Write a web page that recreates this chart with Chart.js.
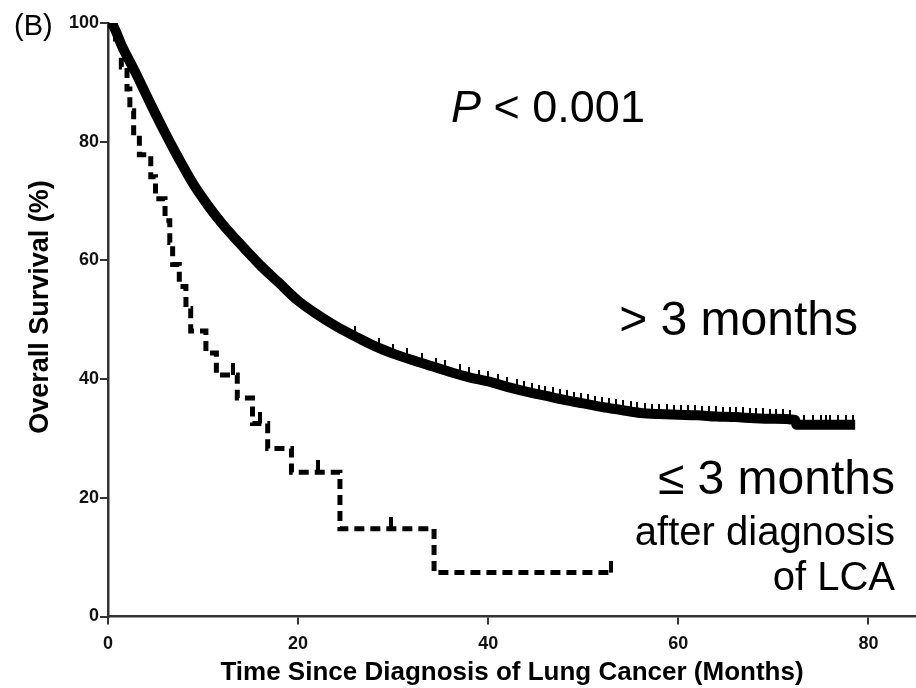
<!DOCTYPE html>
<html>
<head>
<meta charset="utf-8">
<script src="https://cdn.jsdelivr.net/npm/chart.js@4.4.1/dist/chart.umd.min.js"></script>
<style>
  html, body { margin: 0; padding: 0; background: #fff; }
</style>
</head>
<body>
<canvas id="km" width="916" height="688"></canvas>
<script>
const xTicks = [0, 20, 40, 60, 80];
const yTicks = [0, 20, 40, 60, 80, 100];

// > 3 months group (solid curve)
const lateMonths = [0, 0.5, 1.5, 3, 4.5, 6, 7.5, 9, 10.5, 12, 14, 16, 18, 20, 22, 24, 26, 28, 30, 32, 34, 36, 38, 40, 42, 44, 46, 48, 50, 52, 54, 56, 58, 60, 62, 64, 66, 68, 70, 72.3, 72.4, 78.6];
const lateSurvival = [100, 99.6, 96, 91.3, 86.3, 81.5, 77, 72.8, 69.3, 66.2, 62.6, 59.2, 56.2, 53.2, 50.9, 48.9, 47.2, 45.6, 44.3, 43.2, 42.2, 41.2, 40.3, 39.6, 38.7, 37.9, 37.2, 36.5, 35.9, 35.3, 34.8, 34.3, 34.1, 34.0, 33.9, 33.7, 33.6, 33.4, 33.3, 33.1, 32.3, 32.3];
const lateCensorMonths = [26, 28.5, 30, 31.5, 33, 34.5, 35.5, 37, 38, 39, 40, 41, 42, 43, 43.8, 44.6, 45.3, 46, 46.8, 47.5, 48.3, 49, 49.8, 50.5, 51.2, 52, 52.7, 53.4, 54.2, 55, 55.7, 56.5, 57.2, 58, 58.8, 59.5, 60.3, 61, 61.8, 62.5, 63.2, 64, 64.7, 65.4, 66.1, 66.8, 67.5, 68.2, 68.9, 69.6, 70.3, 71, 71.7, 73.2, 74.2, 75, 75.5, 76, 76.8, 77.6, 78.4];
const lateCensorSurvival = [47.2, 45.3, 44.3, 43.5, 42.7, 41.9, 41.5, 40.8, 40.3, 39.9, 39.6, 39.2, 38.7, 38.3, 38.0, 37.7, 37.4, 37.2, 36.9, 36.7, 36.4, 36.2, 35.95, 35.75, 35.55, 35.3, 35.15, 35.0, 34.75, 34.55, 34.4, 34.25, 34.15, 34.1, 34.05, 34.0, 33.98, 33.95, 33.9, 33.85, 33.8, 33.7, 33.65, 33.6, 33.6, 33.55, 33.45, 33.4, 33.38, 33.35, 33.3, 33.25, 33.15, 32.3, 32.3, 32.3, 32.3, 32.3, 32.3, 32.3, 32.3];

// <= 3 months group (dashed step curve)
const earlyMonths = [0, 0.8, 1.4, 2.0, 2.3, 2.7, 3.3, 4.5, 5.0, 6.0, 6.5, 6.8, 7.5, 8.2, 8.7, 10.3, 11.4, 13.6, 15.2, 16.8, 19.3, 24.4, 34.3, 52.9];
const earlySurvival = [100, 96.3, 92.6, 88.9, 85.2, 81.5, 77.8, 74.1, 70.4, 66.7, 63.0, 59.3, 55.6, 51.9, 48.1, 44.4, 40.7, 36.8, 32.5, 28.3, 24.3, 14.8, 7.4, 7.4];
const earlyCensorMonths = [13.2, 16.0, 22.1, 29.8, 52.9];
const earlyCensorSurvival = [40.7, 32.5, 24.3, 14.8, 7.4];

const FONT = '"Liberation Sans", Arial, sans-serif';

function pairs(xs, ys) {
    return xs.map((x, i) => ({ x, y: ys[i] }));
}

// upward censor tick: only the top half of the image is inked
function censorMark(w, len) {
    const c = document.createElement('canvas');
    c.width = w;
    c.height = len * 2;
    const g = c.getContext('2d');
    g.fillStyle = '#000';
    g.fillRect(0, 0, w, len);
    return c;
}

const notes = {
    id: 'notes',
    afterDraw(chart) {
        const ctx = chart.ctx;
        ctx.save();
        ctx.fillStyle = '#000';
        ctx.textBaseline = 'alphabetic';

        ctx.textAlign = 'left';
        ctx.font = '29px ' + FONT;
        ctx.fillText('(B)', 14, 35);

        ctx.font = 'italic 45px ' + FONT;
        ctx.fillText('P', 451, 122);
        const pw = ctx.measureText('P').width;
        ctx.font = '45px ' + FONT;
        ctx.fillText(' < 0.001', 451 + pw, 122);

        ctx.textAlign = 'right';
        ctx.font = '48px ' + FONT;
        ctx.fillText('> 3 months', 858, 335);
        ctx.fillText('\u2264 3 months', 895, 494);
        ctx.font = '40px ' + FONT;
        ctx.fillText('after diagnosis', 895, 545);
        ctx.fillText('of LCA', 895, 590);

        ctx.translate(41, 307);
        ctx.rotate(-Math.PI / 2);
        ctx.textAlign = 'center';
        ctx.textBaseline = 'middle';
        ctx.font = 'bold 27px ' + FONT;
        ctx.fillText('Overall Survival (%)', 0, 0);
        ctx.restore();
    }
};

new Chart(document.getElementById('km').getContext('2d'), {
    type: 'line',
    data: {
        datasets: [
            {
                label: '> 3 months',
                data: pairs(lateMonths, lateSurvival),
                borderColor: '#000',
                borderWidth: 10,
                cubicInterpolationMode: 'monotone',
                pointRadius: 0
            },
            {
                label: '> 3 months censored',
                data: pairs(lateCensorMonths, lateCensorSurvival),
                showLine: false,
                pointStyle: censorMark(2, 10),
                pointRadius: 5
            },
            {
                label: '\u2264 3 months',
                data: pairs(earlyMonths, earlySurvival),
                borderColor: '#000',
                borderWidth: 5,
                borderDash: [10, 6],
                stepped: true,
                pointRadius: 0
            },
            {
                label: '\u2264 3 months censored',
                data: pairs(earlyCensorMonths, earlyCensorSurvival),
                showLine: false,
                pointStyle: censorMark(4, 12),
                pointRadius: 6
            }
        ]
    },
    options: {
        responsive: false,
        animation: false,
        layout: { autoPadding: false, padding: { top: 23, right: 0, bottom: 0, left: 0 } },
        plugins: { legend: { display: false }, tooltip: { enabled: false } },
        scales: {
            x: {
                type: 'linear',
                min: 0,
                max: 85,
                afterBuildTicks: s => { s.ticks = xTicks.map(v => ({ value: v })); },
                afterFit: s => { s.height = 71.5; },
                border: { color: '#333', width: 2.5 },
                grid: { drawOnChartArea: false, drawTicks: true, tickLength: 8, color: '#333', lineWidth: 2 },
                ticks: { color: '#111', padding: 9, font: { family: FONT, size: 18, weight: 'bold' } },
                title: {
                    display: true,
                    text: 'Time Since Diagnosis of Lung Cancer (Months)',
                    color: '#000',
                    font: { family: FONT, size: 26, weight: 'bold' },
                    padding: { top: 0, bottom: 0 }
                }
            },
            y: {
                min: 0,
                max: 100,
                afterBuildTicks: s => { s.ticks = yTicks.map(v => ({ value: v })); },
                afterFit: s => { s.width = 108; },
                border: { color: '#333', width: 2.5 },
                grid: { drawOnChartArea: false, drawTicks: true, tickLength: 8, color: '#333', lineWidth: 2 },
                ticks: { color: '#111', padding: 1, font: { family: FONT, size: 18, weight: 'bold' } }
            }
        }
    },
    plugins: [notes]
});
</script>
</body>
</html>
